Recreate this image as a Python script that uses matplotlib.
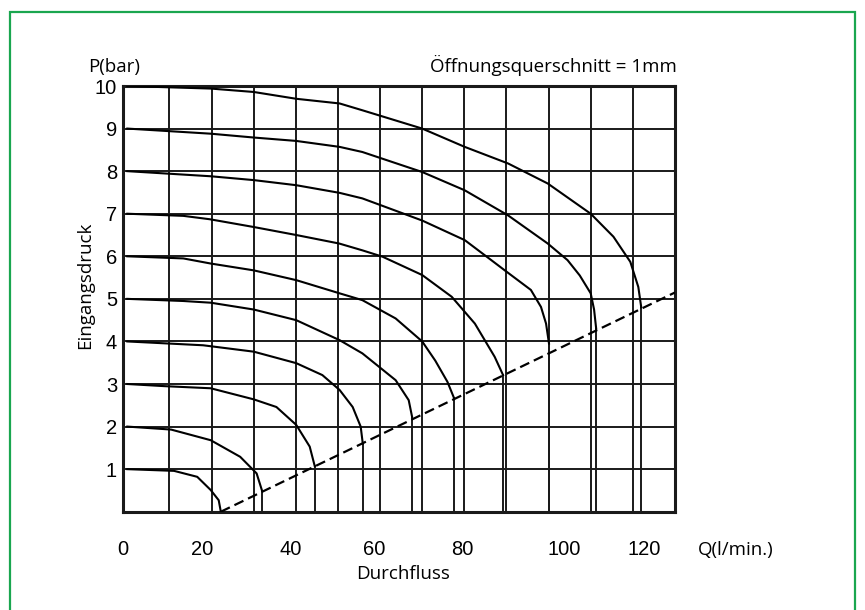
import numpy as np
import matplotlib.pyplot as plt
from matplotlib.patches import Rectangle

# Durchfluss Q (l/min) und Eingangsdruck P (bar) je Kennlinie
q_1bar = [0, 11.1, 16.6, 19.8, 21.7, 22.2]
p_1bar = [1.0, 0.96, 0.82, 0.51, 0.27, 0.0]

q_2bar = [0, 10.4, 19.8, 26.8, 30.7, 32.0]
p_2bar = [2.0, 1.93, 1.68, 1.29, 0.90, 0.49]

q_3bar = [0, 8.8, 19.8, 30.0, 35.4, 40.1, 43.3, 44.5]
p_3bar = [3.0, 2.95, 2.90, 2.64, 2.46, 2.04, 1.53, 1.07]

q_4bar = [0, 18.0, 30.0, 40.1, 46.3, 50.4, 53.5, 55.4, 55.9]
p_4bar = [4.0, 3.91, 3.76, 3.49, 3.21, 2.86, 2.46, 2.0, 1.6]

q_5bar = [0, 13.3, 19.8, 30.0, 40.1, 50.4, 55.8, 63.7, 66.8, 67.6]
p_5bar = [5.0, 4.95, 4.91, 4.75, 4.50, 4.03, 3.72, 3.09, 2.62, 2.23]

q_6bar = [0, 13.3, 19.8, 30.0, 40.1, 50.4, 55.8, 63.7, 70.0, 73.1, 76.0, 77.6]
p_6bar = [6.0, 5.95, 5.83, 5.67, 5.44, 5.13, 4.97, 4.54, 4.0, 3.55, 3.05, 2.66]

q_7bar = [0, 13.3, 19.6, 29.9, 40.1, 50.3, 55.8, 60.6, 67.6, 70.0, 77.0, 82.5, 87.2, 89.2]
p_7bar = [7.0, 6.95, 6.87, 6.69, 6.50, 6.30, 6.14, 5.99, 5.67, 5.56, 5.05, 4.42, 3.64, 3.21]

q_8bar = [0, 19.8, 30.0, 40.1, 50.4, 55.8, 70.0, 80.1, 86.4, 89.6, 95.8, 98.2, 99.4, 100.1]
p_8bar = [8.0, 7.88, 7.79, 7.67, 7.49, 7.36, 6.84, 6.38, 5.91, 5.67, 5.21, 4.81, 4.42, 3.95]

q_9bar = [0, 19.8, 30.0, 40.1, 50.4, 55.8, 70.0, 80.1, 90.4, 99.8, 104.5, 107.4, 110.0, 110.8, 111.3]
p_9bar = [9.0, 8.88, 8.79, 8.71, 8.57, 8.45, 7.98, 7.55, 6.96, 6.30, 5.91, 5.55, 5.13, 4.75, 4.30]

q_10bar = [0, 19.8, 30.0, 40.1, 50.4, 55.8, 70.0, 80.1, 90.4, 99.8, 110.0, 115.4, 119.4, 121.3, 122.0]
p_10bar = [10.0, 9.94, 9.86, 9.70, 9.59, 9.43, 9.00, 8.57, 8.18, 7.71, 7.00, 6.46, 5.87, 5.28, 4.80]

# Grenzlinie (gestrichelt)
q_limit = [22.2, 130.0]
p_limit = [0.0, 5.15]

q_ticks = [0, 20, 40, 60, 80, 100, 120]
p_ticks = [1, 2, 3, 4, 5, 6, 7, 8, 9, 10]

curves = [
    (q_1bar, p_1bar), (q_2bar, p_2bar), (q_3bar, p_3bar), (q_4bar, p_4bar),
    (q_5bar, p_5bar), (q_6bar, p_6bar), (q_7bar, p_7bar), (q_8bar, p_8bar),
    (q_9bar, p_9bar), (q_10bar, p_10bar),
]

num_font = ['Liberation Sans', 'DejaVu Sans']
txt_font = ['Open Sans', 'DejaVu Sans']
ink = '#1a1a1a'
W, H = 865, 610

fig = plt.figure(figsize=(W / 100, H / 100), dpi=100)
ax = fig.add_axes([0.1418, 0.1611, 0.6385, 0.6979])

# gruener Rahmen
fig.patches.append(Rectangle((10 / W, -0.05), 845 / W, 1.05 - 12 / H,
                             transform=fig.transFigure, fill=False,
                             edgecolor='#1aa64f', linewidth=1.6))

ax.set_xlim(0, 130)
ax.set_ylim(0, 10)

for gx in np.arange(10, 130, 10):
    ax.axvline(gx, color=ink, lw=1.4, zorder=1)
for gy in np.arange(1, 10, 1):
    ax.axhline(gy, color=ink, lw=1.4, zorder=1)

for q, p in curves:
    ax.plot(q, p, color='black', lw=1.5, zorder=3, solid_joinstyle='round')
    # senkrechte Linie bis zur Q-Achse
    if p[-1] > 0:
        ax.plot([q[-1], q[-1]], [p[-1], 0], color=ink, lw=1.4, zorder=2)

ax.plot(q_limit, p_limit, color='black', lw=1.6, linestyle=(0, (4.5, 2.3)), zorder=3)

for s in ax.spines.values():
    s.set_linewidth(2.2)
    s.set_color(ink)

# Beschriftung der Q-Achse leicht versetzt wie in der Vorlage
q_nudge = [-1.1, -2.2, -1.2, -1.3, -0.4, 3.7, 2.6]
ax.set_xticks([t + d for t, d in zip(q_ticks, q_nudge)])
ax.set_xticklabels([str(t) for t in q_ticks], fontfamily=num_font, fontsize=14.5)
ax.set_yticks(p_ticks)
ax.set_yticklabels([str(t) for t in p_ticks], fontfamily=num_font, fontsize=14.5)
ax.tick_params(axis='x', length=0, pad=20)
ax.tick_params(axis='y', length=0, pad=4)


def label(x, y, s, **kw):
    fig.text(x / W, 1 - y / H, s, fontfamily=txt_font, fontsize=13.5, **kw)


label(114, 72, 'P(bar)', ha='center', va='baseline')
label(677, 72, 'Öffnungsquerschnitt = 1mm', ha='right', va='baseline')
label(698, 555, 'Q(l/min.)', ha='left', va='baseline')
label(403, 579, 'Durchfluss', ha='center', va='baseline')
label(85, 285, 'Eingangsdruck', ha='center', va='center', rotation=90)

fig.savefig('out.png', dpi=100)
